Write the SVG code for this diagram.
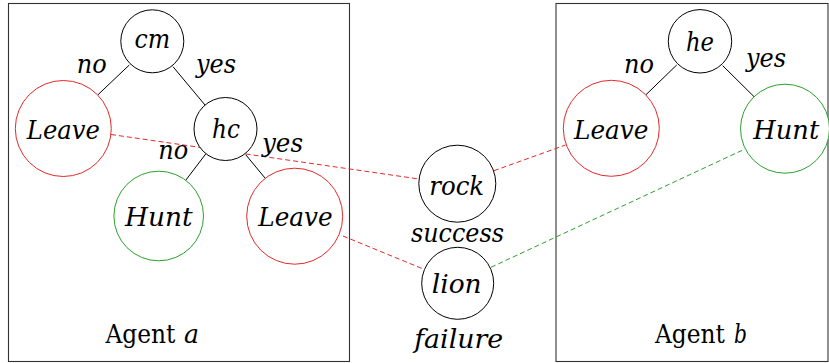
<svg xmlns="http://www.w3.org/2000/svg" width="829" height="363" viewBox="0 0 829 363">
<style>
.box{fill:none;stroke:#333;stroke-width:1.1}
.n{fill:#fff;stroke:#000;stroke-width:1}
.r{fill:#fff;stroke:#e22a2a;stroke-width:1}
.g{fill:#fff;stroke:#2ca02c;stroke-width:1}
.e{stroke:#000;stroke-width:1;fill:none}
.dr{stroke:#e22a2a;stroke-width:1;stroke-dasharray:5 3;fill:none}
.dg{stroke:#2ca02c;stroke-width:1;stroke-dasharray:5 3;fill:none}
.t{font-family:'DejaVu Serif','Liberation Serif',serif;font-size:26px;fill:#000;text-anchor:middle}
.s{text-anchor:start}
.m{font-style:italic}
</style>
<rect class="box" x="8.5" y="3.5" width="341" height="358"/>
<rect class="box" x="556" y="3.5" width="272" height="358"/>
<g id="connectors">
<line class="e" x1="129.3" y1="65" x2="97.7" y2="95"/>
<line class="e" x1="173" y1="66.7" x2="205" y2="105"/>
<line class="e" x1="205.7" y1="154" x2="185.7" y2="180.3"/>
<line class="e" x1="245.7" y1="154.7" x2="265" y2="178"/>
<line class="e" x1="676.7" y1="65" x2="645.7" y2="95"/>
<line class="e" x1="722.7" y1="65.7" x2="754.7" y2="97.3"/>
<line class="dr" x1="111" y1="134.5" x2="419" y2="179"/>
<line class="dr" x1="343" y1="236" x2="424" y2="269.3"/>
<line class="dr" x1="494" y1="170.7" x2="565.5" y2="145"/>
<line class="dg" x1="491" y1="267.3" x2="745" y2="149"/>
</g>
<g id="labels">
<text class="t m" x="91.7" y="72.7" textLength="30" lengthAdjust="spacingAndGlyphs">no</text>
<text class="t m" x="216" y="72.7" textLength="40" lengthAdjust="spacingAndGlyphs">yes</text>
<text class="t m" x="173.3" y="159.3" textLength="30" lengthAdjust="spacingAndGlyphs">no</text>
<text class="t m" x="282.5" y="151.7" textLength="41" lengthAdjust="spacingAndGlyphs">yes</text>
<text class="t m" x="639" y="72.7" textLength="30" lengthAdjust="spacingAndGlyphs">no</text>
<text class="t m" x="766" y="66.7" textLength="40" lengthAdjust="spacingAndGlyphs">yes</text>
</g>
<g id="cm"><circle class="n" cx="152.3" cy="41.3" r="31.5"/><text class="t m" x="152.3" y="48.3" textLength="35.7" lengthAdjust="spacingAndGlyphs">cm</text></g>
<g id="leaveA1"><circle class="r" cx="63.3" cy="128.5" r="48"/><text class="t m" x="63.3" y="138.5" textLength="73" lengthAdjust="spacingAndGlyphs">Leave</text></g>
<g id="hc"><circle class="n" cx="225.5" cy="129" r="31.5"/><text class="t m" x="226" y="138.3" textLength="28" lengthAdjust="spacingAndGlyphs">hc</text></g>
<g id="huntA"><circle class="g" cx="158.7" cy="216" r="44.8"/><text class="t m" x="158.8" y="226" textLength="67.7" lengthAdjust="spacingAndGlyphs">Hunt</text></g>
<g id="leaveA2"><circle class="r" cx="294.7" cy="216.2" r="48"/><text class="t m" x="295.5" y="226" textLength="74.3" lengthAdjust="spacingAndGlyphs">Leave</text></g>
<g id="agentA"><text class="t s" x="105.5" y="343.3" textLength="70" lengthAdjust="spacingAndGlyphs">Agent</text><text class="t s m" x="184" y="343.3" textLength="15" lengthAdjust="spacingAndGlyphs">a</text></g>
<g id="rock"><circle class="n" cx="457.3" cy="183.7" r="38.5"/><text class="t m" x="456.7" y="195" textLength="55" lengthAdjust="spacingAndGlyphs">rock</text></g>
<g id="success"><text class="t m" x="457.5" y="241.7" textLength="93" lengthAdjust="spacingAndGlyphs">success</text></g>
<g id="lion"><circle class="n" cx="457.7" cy="283.3" r="36"/><text class="t m" x="456.7" y="293.3" textLength="50" lengthAdjust="spacingAndGlyphs">lion</text></g>
<g id="failure"><text class="t m" x="458.7" y="348.3" textLength="89" lengthAdjust="spacingAndGlyphs">failure</text></g>
<g id="he"><circle class="n" cx="700" cy="41.3" r="31.7"/><text class="t m" x="700" y="51.3" textLength="28" lengthAdjust="spacingAndGlyphs">he</text></g>
<g id="leaveB"><circle class="r" cx="611.3" cy="128.3" r="48"/><text class="t m" x="611.2" y="139.3" textLength="74.3" lengthAdjust="spacingAndGlyphs">Leave</text></g>
<g id="huntB"><circle class="g" cx="785" cy="128.7" r="44.5"/><text class="t m" x="786.3" y="139.3" textLength="66" lengthAdjust="spacingAndGlyphs">Hunt</text></g>
<g id="agentB"><text class="t s" x="655" y="342.7" textLength="70" lengthAdjust="spacingAndGlyphs">Agent</text><text class="t s m" x="734" y="342.7" textLength="13" lengthAdjust="spacingAndGlyphs">b</text></g>
</svg>
